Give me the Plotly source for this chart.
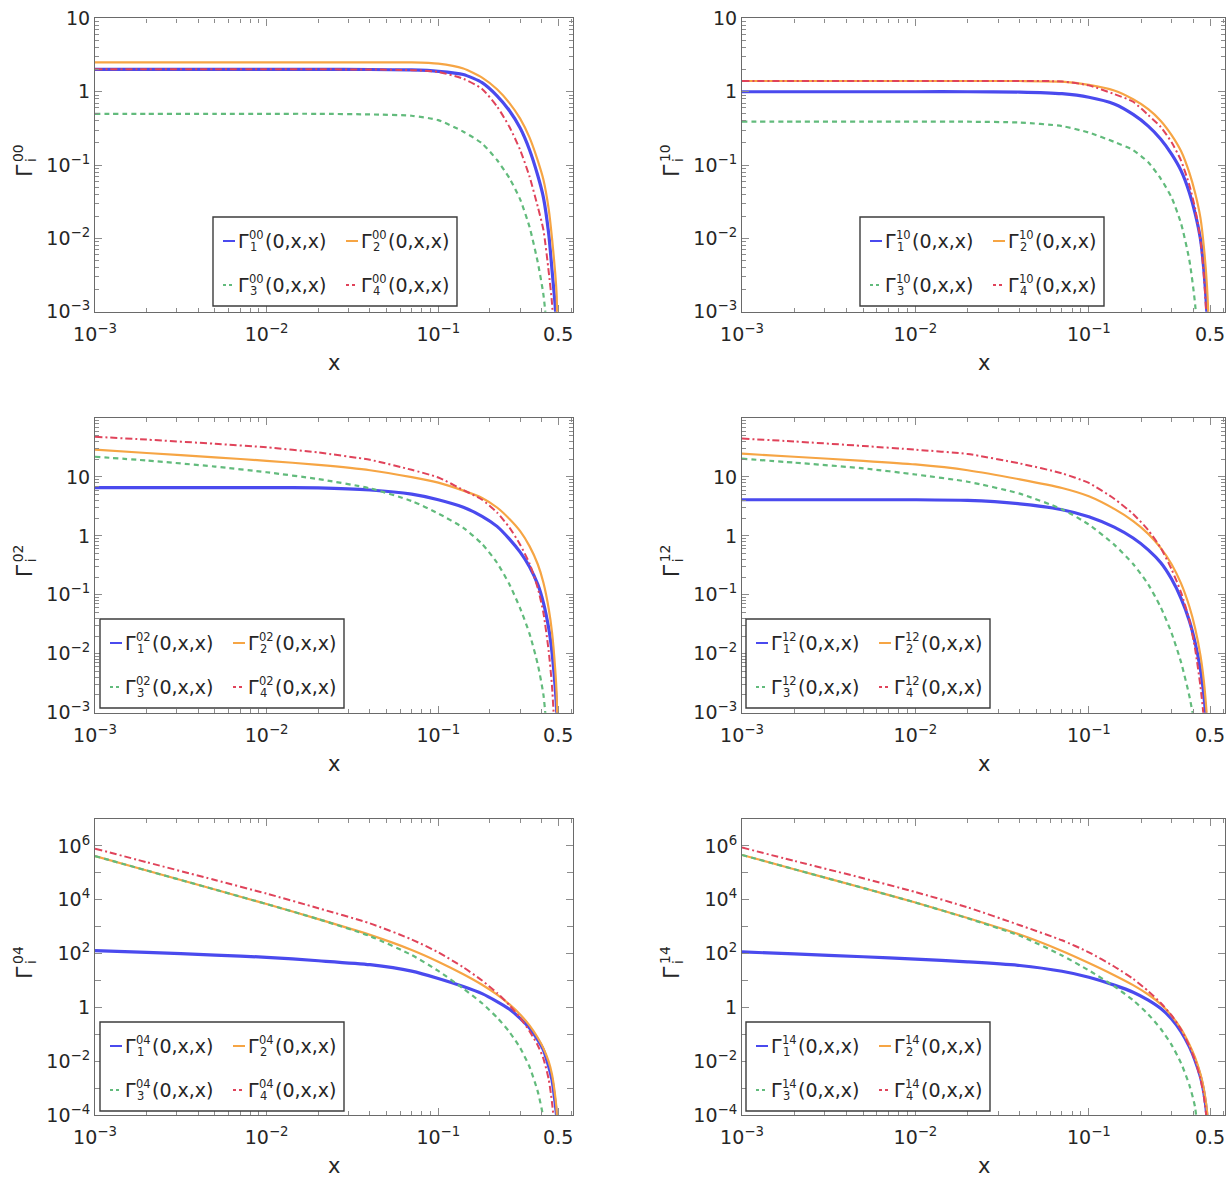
import plotly.graph_objects as go

# ---------------------------------------------------------------------------
# data: Γ_i^{jk}(0,x,x) sampled on a common x grid
# ---------------------------------------------------------------------------
x_vals = [0.001, 0.002, 0.005, 0.01, 0.02, 0.04, 0.07, 0.1, 0.14, 0.18,
          0.22, 0.26, 0.3, 0.34, 0.38, 0.41, 0.44, 0.46, 0.48, 0.49, 0.5]

# Γ^{00}
g00_1 = [2.02, 2.02, 2.02, 2.02, 2.02, 2.01, 1.98, 1.9, 1.72, 1.33, 0.88,
         0.55, 0.32, 0.162, 0.072, 0.036, 0.0115, 0.0037, 0.0012, 0.0005, 1e-6]
g00_2 = [2.52, 2.52, 2.52, 2.52, 2.52, 2.52, 2.51, 2.41, 2.07, 1.56, 1.08,
         0.70, 0.43, 0.238, 0.115, 0.063, 0.025, 0.01, 0.0034, 0.0016, 1e-6]
g00_3 = [0.5, 0.5, 0.5, 0.5, 0.5, 0.49, 0.47, 0.41, 0.285, 0.197, 0.117,
         0.066, 0.034, 0.0144, 0.0047, 0.0017, 0.0003, 0.00003, 1e-6, 1e-6, 1e-6]
g00_4 = [2.02, 2.02, 2.02, 2.02, 2.02, 2.01, 1.97, 1.86, 1.5, 1.09, 0.63,
         0.33, 0.16, 0.07, 0.027, 0.013, 0.0035, 0.0013, 0.0002, 0.00003, 1e-6]

# Γ^{10}
g10_1 = [1.0, 1.0, 1.0, 1.0, 1.0, 0.99, 0.94, 0.84, 0.68, 0.49, 0.34,
         0.225, 0.141, 0.084, 0.042, 0.022, 0.0098, 0.0038, 0.0009, 0.0002, 1e-6]
g10_2 = [1.4, 1.4, 1.4, 1.4, 1.4, 1.4, 1.37, 1.24, 1.04, 0.79, 0.58,
         0.40, 0.256, 0.155, 0.078, 0.0415, 0.019, 0.0078, 0.0022, 0.0007, 1e-6]
g10_3 = [0.39, 0.39, 0.39, 0.39, 0.39, 0.38, 0.34, 0.277, 0.207, 0.16, 0.109,
         0.065, 0.036, 0.016, 0.005, 0.00126, 0.0001, 0.00001, 1e-6, 1e-6, 1e-6]
g10_4 = [1.4, 1.4, 1.4, 1.4, 1.4, 1.4, 1.38, 1.22, 0.93, 0.73, 0.48,
         0.33, 0.204, 0.115, 0.053, 0.0255, 0.0095, 0.0032, 0.0006, 0.00012, 1e-6]

# Γ^{02}
g02_1 = [6.6, 6.6, 6.6, 6.6, 6.5, 6.0, 5.1, 4.1, 3.05, 2.15, 1.45,
         0.88, 0.53, 0.3, 0.15, 0.073, 0.027, 0.0105, 0.0027, 0.001, 1e-6]
g02_2 = [29, 25.5, 21.5, 18.8, 16, 13, 9.9, 8.0, 5.85, 4.4, 3.03,
         1.93, 1.2, 0.67, 0.33, 0.16, 0.058, 0.023, 0.0055, 0.0019, 1e-6]
g02_3 = [22, 19, 15, 12, 9.2, 6.4, 3.9, 2.4, 1.37, 0.73, 0.35,
         0.15, 0.059, 0.022, 0.0066, 0.002, 0.0002, 0.00003, 1e-6, 1e-6, 1e-6]
g02_4 = [48, 43, 36.5, 31.8, 26, 19.5, 13.2, 9.8, 6.0, 4.1, 2.5,
         1.38, 0.71, 0.34, 0.13, 0.049, 0.011, 0.0028, 0.0003, 0.00005, 1e-6]

# Γ^{12}
g12_1 = [4.1, 4.1, 4.1, 4.1, 4.0, 3.5, 2.78, 2.12, 1.41, 0.92, 0.58,
         0.35, 0.185, 0.087, 0.036, 0.0155, 0.0054, 0.002, 0.00046, 0.0001, 1e-6]
g12_2 = [24.8, 22, 18.8, 16.3, 13, 9.1, 6.5, 4.7, 2.87, 1.78, 1.08,
         0.62, 0.331, 0.156, 0.0628, 0.0272, 0.0094, 0.0035, 0.0008, 0.00025, 1e-6]
g12_3 = [20.4, 17.5, 14, 11, 8.3, 5.2, 2.83, 1.56, 0.71, 0.334, 0.15,
         0.061, 0.0224, 0.0072, 0.0019, 0.00056, 0.000117, 0.00001, 1e-6, 1e-6, 1e-6]
g12_4 = [44.7, 40, 33.5, 29, 24.5, 16.9, 11.5, 7.9, 4.27, 2.35, 1.25,
         0.62, 0.27, 0.11, 0.037, 0.012, 0.0028, 0.0008, 0.0001, 0.00001, 1e-6]

# Γ^{04}
g04_1 = [129, 110, 88, 72.5, 54, 38.5, 22.2, 11.9, 5.96, 3.24, 1.64,
         0.85, 0.39, 0.17, 0.062, 0.026, 0.0063, 0.002, 0.00027, 0.00008, 1e-7]
g04_2 = [4.2e5, 1.22e5, 2.39e4, 6.9e3, 1.9e3, 493, 136, 50, 17, 6.9, 2.97,
         1.29, 0.545, 0.213, 0.074, 0.03, 0.0096, 0.0032, 0.0005, 0.000126, 1e-7]
g04_3 = [4.2e5, 1.22e5, 2.39e4, 6.9e3, 1.9e3, 445, 88, 22.6, 4.97, 1.42, 0.42,
         0.121, 0.031, 0.0062, 0.00074, 0.000076, 1e-6, 1e-7, 1e-7, 1e-7, 1e-7]
g04_4 = [7.9e5, 2.48e5, 5.4e4, 1.69e4, 4.84e3, 1.32e3, 334, 111, 30.8, 9.96, 3.44,
         1.2, 0.406, 0.131, 0.0387, 0.0124, 0.0021, 0.00029, 0.000016, 1e-7, 1e-7]

# Γ^{14}
g14_1 = [115, 97, 76, 62, 49, 36, 21.9, 13.2, 6.7, 3.66, 1.85,
         0.9, 0.37, 0.125, 0.034, 0.0105, 0.0026, 0.0007, 0.00008, 1e-6, 1e-7]
g14_2 = [4.6e5, 1.36e5, 2.73e4, 7.85e3, 2.1e3, 508, 125, 44.6, 15.7, 6.7, 3.0,
         1.3, 0.49, 0.159, 0.042, 0.0134, 0.0033, 0.00094, 0.000138, 0.00003, 1e-7]
g14_3 = [4.6e5, 1.36e5, 2.73e4, 7.85e3, 2.05e3, 457, 85, 23.6, 6.1, 1.84, 0.55,
         0.157, 0.0405, 0.0085, 0.00128, 0.00019, 1e-6, 1e-7, 1e-7, 1e-7, 1e-7]
g14_4 = [8.7e5, 2.77e5, 6.3e4, 1.93e4, 5.2e3, 1.13e3, 311, 111, 33, 11.5, 4.0,
         1.45, 0.5, 0.15, 0.036, 0.0105, 0.0022, 0.0005, 0.00005, 1e-7, 1e-7]

panel_keys = ["00", "10", "02", "12", "04", "14"]
panel_series = {
    "00": [g00_1, g00_2, g00_3, g00_4],
    "10": [g10_1, g10_2, g10_3, g10_4],
    "02": [g02_1, g02_2, g02_3, g02_4],
    "12": [g12_1, g12_2, g12_3, g12_4],
    "04": [g04_1, g04_2, g04_3, g04_4],
    "14": [g14_1, g14_2, g14_3, g14_4],
}

x_tick_vals = [1e-3, 1e-2, 1e-1, 0.5]
x_tick_text = ["10<sup>−3</sup>", "10<sup>−2</sup>", "10<sup>−1</sup>", "0.5"]

# ---------------------------------------------------------------------------
# page geometry (pixels) and styling
# ---------------------------------------------------------------------------
W, H = 1229, 1180
COLS = [(95, 573), (742, 1225)]
ROWS = [(18.4, 311.7), (418, 712.7), (819, 1115)]
Y_RANGES = [(-3, 1), (-3, 2), (-4, 7)]
X_RANGE = (-3, -0.215)

FONT = "DejaVu Sans, Liberation Sans, Arial, sans-serif"
TEXT = "#262626"
FRAME = "#6a6a6a"
TICK = "#8c8c8c"

line_styles = [
    dict(color="#4a4aee", width=3.2, dash="solid"),
    dict(color="#f6a544", width=2.2, dash="solid"),
    dict(color="#62bb7c", width=2.2, dash="5px,4px"),
    dict(color="#e0435a", width=2.0, dash="7px,3px,2px,3px"),
]

# legend boxes: top-left corner in pixels
LEGEND_BOXES = [(213, 217), (860, 217), (100, 619), (746, 619), (100, 1022), (746, 1022)]
LEG_W, LEG_H = 244, 89


def px(v):
    return v / W


def py(v):
    return 1 - v / H


def dec_label(e):
    if e == 0:
        return "1"
    if e == 1:
        return "10"
    if e < 0:
        return "10<sup>−%d</sup>" % (-e)
    return "10<sup>%d</sup>" % e


fig = go.Figure()
layout = {}
shapes = []
annotations = []

minor_x = [m * 10.0 ** e for e in (-3, -2, -1) for m in range(2, 10) if m * 10.0 ** e < 0.61]

for k, key in enumerate(panel_keys):
    r, c = divmod(k, 2)
    suffix = "" if k == 0 else str(k + 1)
    xa, ya = "x" + suffix, "y" + suffix
    x0, x1 = COLS[c]
    y0, y1 = ROWS[r]
    ylo, yhi = Y_RANGES[r]

    for vals, st in zip(panel_series[key], line_styles):
        fig.add_trace(go.Scatter(
            x=x_vals, y=vals, mode="lines", xaxis=xa, yaxis=ya,
            line=dict(color=st["color"], width=st["width"], dash=st["dash"],
                      shape="spline", smoothing=0.6),
            showlegend=False, hoverinfo="skip",
        ))

    common = dict(
        type="log", showgrid=False, zeroline=False, automargin=False,
        showline=True, linecolor=FRAME, linewidth=1.2, mirror="allticks",
        ticks="inside", ticklen=7, tickwidth=1, tickcolor=TICK,
        tickfont=dict(family=FONT, size=19, color=TEXT),
    )
    layout["xaxis" + suffix] = dict(
        common, domain=[px(x0), px(x1)], anchor=ya, range=list(X_RANGE),
        tickmode="array", tickvals=x_tick_vals, ticktext=x_tick_text,
        ticklabelstandoff=5,
        minor=dict(tickmode="array", tickvals=minor_x, ticks="inside",
                   ticklen=4, tickcolor=TICK, showgrid=False),
    )

    if r < 2:
        exps = list(range(-3, 2))
        y_minor = [m * 10.0 ** e for e in range(-3, yhi) for m in range(2, 10)]
        yminor = dict(tickmode="array", tickvals=y_minor, ticks="inside",
                      ticklen=4, tickcolor=TICK, showgrid=False)
    else:
        exps = list(range(-4, 7, 2))
        y_minor = [10.0 ** e for e in range(-3, 8, 2)]
        yminor = dict(tickmode="array", tickvals=y_minor, ticks="inside",
                      ticklen=6, tickcolor=TICK, showgrid=False)
    layout["yaxis" + suffix] = dict(
        common, domain=[py(y1), py(y0)], anchor=xa, range=[ylo, yhi],
        tickmode="array", tickvals=[10.0 ** e for e in exps],
        ticktext=[dec_label(e) for e in exps], minor=yminor,
    )

    # axis titles
    cx = (x0 + x1) / 2
    annotations.append(dict(x=px(cx), y=py(y1 + 51), xref="paper", yref="paper",
                            text="x", showarrow=False, xanchor="center", yanchor="middle",
                            font=dict(family=FONT, size=21, color=TEXT)))
    cy = (y0 + y1) / 2
    gx = x0 - 71
    annotations += [
        dict(x=px(gx), y=py(cy + 6), text="Γ", textangle=-90,
             font=dict(family=FONT, size=22, color=TEXT)),
        dict(x=px(gx - 6), y=py(cy - 12), text=key, textangle=-90,
             font=dict(family=FONT, size=14, color=TEXT)),
        dict(x=px(gx + 7), y=py(cy - 5), text="i", textangle=-90,
             font=dict(family=FONT, size=14, color=TEXT)),
    ]
    for a in annotations[-3:]:
        a.update(xref="paper", yref="paper", showarrow=False,
                 xanchor="center", yanchor="middle")

    # legend frame
    bx, by = LEGEND_BOXES[k]
    shapes.append(dict(type="rect", xref="paper", yref="paper",
                       x0=px(bx), x1=px(bx + LEG_W), y0=py(by + LEG_H), y1=py(by),
                       line=dict(color="#3c3c3c", width=1.4), fillcolor="white", layer="above"))
    for i, st in enumerate(line_styles):
        dx = 0 if i % 2 == 0 else 123
        dy = 24 if i < 2 else 68
        ry = by + dy
        shapes.append(dict(type="line", xref="paper", yref="paper",
                           x0=px(bx + dx + 10), x1=px(bx + dx + 22), y0=py(ry), y1=py(ry),
                           line=dict(color=st["color"], width=min(st["width"], 2.0),
                                     dash="solid" if st["dash"] == "solid" else "3px,3px"),
                           layer="above"))
        base = dict(xref="paper", yref="paper", showarrow=False,
                    xanchor="left", yanchor="middle")
        annotations += [
            dict(base, x=px(bx + dx + 23), y=py(ry), text="Γ",
                 font=dict(family=FONT, size=19, color=TEXT)),
            dict(base, x=px(bx + dx + 34), y=py(ry - 6), text=key,
                 font=dict(family=FONT, size=11.5, color=TEXT)),
            dict(base, x=px(bx + dx + 35), y=py(ry + 6), text=str(i + 1),
                 font=dict(family=FONT, size=11.5, color=TEXT)),
            dict(base, x=px(bx + dx + 50), y=py(ry), text="(0,x,x)",
                 font=dict(family=FONT, size=19, color=TEXT)),
        ]

fig.update_layout(
    width=W, height=H,
    margin=dict(l=0, r=0, t=0, b=0),
    paper_bgcolor="white", plot_bgcolor="white",
    showlegend=False,
    shapes=shapes, annotations=annotations,
    **layout,
)

fig.write_html("out.html")
